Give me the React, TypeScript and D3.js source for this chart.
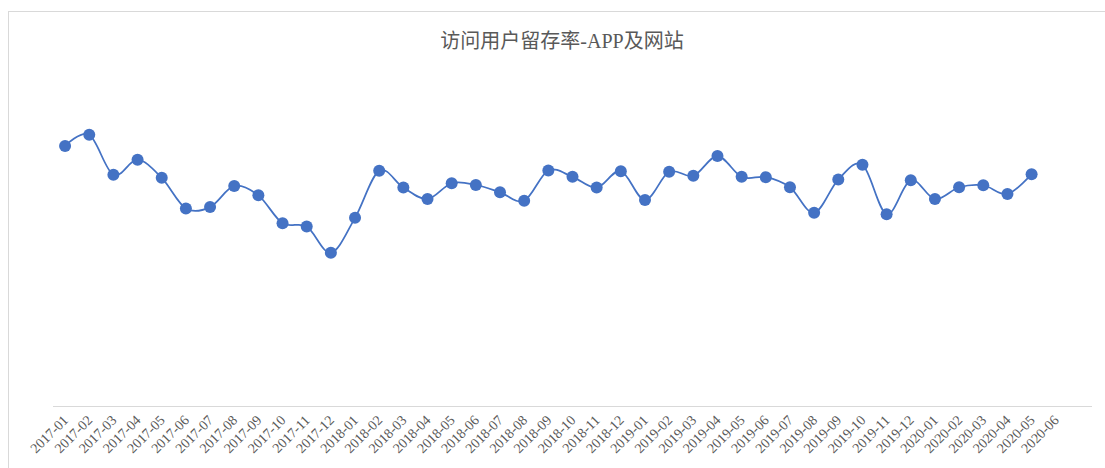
import React from 'react';
import * as d3 from 'd3';

const title = '访问用户留存率-APP及网站';

const months = [
  '2017-01', '2017-02', '2017-03', '2017-04', '2017-05', '2017-06',
  '2017-07', '2017-08', '2017-09', '2017-10', '2017-11', '2017-12',
  '2018-01', '2018-02', '2018-03', '2018-04', '2018-05', '2018-06',
  '2018-07', '2018-08', '2018-09', '2018-10', '2018-11', '2018-12',
  '2019-01', '2019-02', '2019-03', '2019-04', '2019-05', '2019-06',
  '2019-07', '2019-08', '2019-09', '2019-10', '2019-11', '2019-12',
  '2020-01', '2020-02', '2020-03', '2020-04', '2020-05', '2020-06',
];

// retention rate per month (2017-01 .. 2020-05)
const retention = [
  0.774, 0.807, 0.688, 0.733, 0.679, 0.588, 0.592, 0.655, 0.627, 0.544, 0.534, 0.456,
  0.560, 0.700, 0.650, 0.616, 0.663, 0.658, 0.636, 0.611, 0.701, 0.682, 0.650, 0.699,
  0.613, 0.697, 0.685, 0.744, 0.682, 0.681, 0.651, 0.575, 0.674, 0.718, 0.571, 0.672,
  0.616, 0.651, 0.657, 0.631, 0.690,
];

const W = 1105;
const H = 468;
const left = 53;
const right = 1092;
const axisY = 406;
const top = 70;

export default function App() {
  // one empty slot after the last month, as the axis runs on past it
  const x = d3.scaleBand<string>()
    .domain([...months, ''])
    .range([left, right]);
  const y = d3.scaleLinear().domain([0, 1]).range([axisY, top]);

  const pts = retention.map((v, i) => [x(months[i])! + x.bandwidth() / 2, y(v)] as [number, number]);
  const line = d3.line().curve(d3.curveCardinal.tension(0))(pts) || '';

  return (
    <svg width={W} height={H} style={{ position: 'absolute', left: 0, top: 0 }}>
      <rect x={8.5} y={11.5} width={W + 20} height={H + 20} fill="#fff" stroke="#d9d9d9" strokeWidth={1} />
      <text
        x={562}
        y={48}
        textAnchor="middle"
        fontSize={20}
        fill="#595959"
        fontFamily="'Liberation Serif', 'Noto Sans CJK SC', serif"
      >
        {title}
      </text>
      <line x1={left} x2={right} y1={axisY + 0.5} y2={axisY + 0.5} stroke="#d9d9d9" strokeWidth={1} />
      {months.map((m) => {
        const cx = x(m)! + x.bandwidth() / 2 + 4;
        const cy = axisY + 15;
        return (
          <text
            key={m}
            transform={`translate(${cx},${cy}) rotate(-45)`}
            textAnchor="end"
            fontSize={14}
            fill="#595959"
            fontFamily="'Liberation Serif', serif"
          >
            {m}
          </text>
        );
      })}
      <path d={line} fill="none" stroke="#4472c4" strokeWidth={1.75} />
      {pts.map(([px, py], i) => (
        <circle key={i} cx={px} cy={py} r={6} fill="#4472c4" />
      ))}
    </svg>
  );
}
